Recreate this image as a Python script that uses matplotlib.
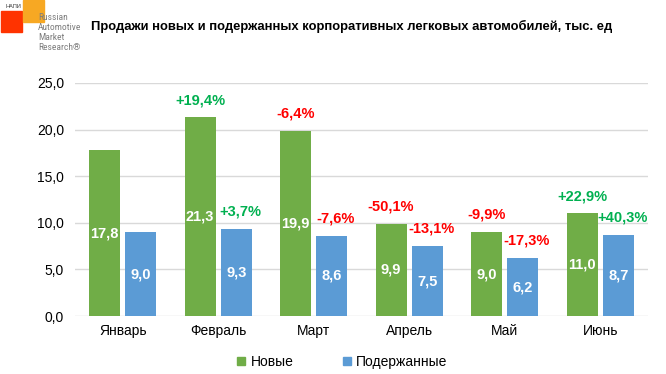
import numpy as np
import matplotlib.pyplot as plt
from matplotlib.patches import Rectangle
from matplotlib.lines import Line2D

plt.rcParams['font.family'] = ['Liberation Sans', 'DejaVu Sans']

# ---------------------------------------------------
# Data
# ---------------------------------------------------
months = ["Январь", "Февраль", "Март", "Апрель", "Май", "Июнь"]
new_cars = [17.8, 21.3, 19.9, 9.9, 9.0, 11.0]
used_cars = [9.0, 9.3, 8.6, 7.5, 6.2, 8.7]
new_change = [None, "+19,4%", "-6,4%", "-50,1%", "-9,9%", "+22,9%"]
used_change = [None, "+3,7%", "-7,6%", "-13,1%", "-17,3%", "+40,3%"]
yticks = [0, 5, 10, 15, 20, 25]

GREEN = "#70AD47"
BLUE = "#5B9BD5"
UP = "#00B050"
DOWN = "#FF0000"

fig = plt.figure(figsize=(6.66, 3.74), dpi=100)
ax = fig.add_axes([75/666, 1-316/374, 573/666, 233/374])

x = np.arange(len(months))
w = 0.325
off = 0.19
ax.bar(x - off, new_cars, w, color=GREEN, zorder=3)
ax.bar(x + off, used_cars, w, color=BLUE, zorder=3)

# values inside bars
for i in range(len(months)):
    ax.text(x[i] - off, new_cars[i] / 2, f"{new_cars[i]:.1f}".replace(".", ","),
            ha="center", va="center", color="white", fontsize=10.5, fontweight="bold", zorder=4)
    ax.text(x[i] + off, used_cars[i] / 2, f"{used_cars[i]:.1f}".replace(".", ","),
            ha="center", va="center", color="white", fontsize=10.5, fontweight="bold", zorder=4)

# percent changes above bars
for i in range(len(months)):
    for lab, val, xx, dx in ((new_change[i], new_cars[i], x[i] - off, 0),
                             (used_change[i], used_cars[i], x[i] + off, 3)):
        if lab is None:
            continue
        col = UP if lab.startswith("+") else DOWN
        ax.annotate(lab, (xx, val), xytext=(dx, 12.5), textcoords="offset points",
                    ha="center", va="center", color=col, fontsize=10.5, fontweight="bold")

ax.set_xlim(-0.5, len(months) - 0.5)
ax.set_ylim(0, 25)
ax.set_yticks(yticks)
ax.set_yticklabels([f"{t:.1f}".replace(".", ",") for t in yticks], fontsize=10)
ax.set_xticks(x)
ax.set_xticklabels(months, fontsize=10)
ax.tick_params(length=0, pad=8)
ax.tick_params(axis="x", pad=6)
ax.grid(axis="y", color="#D9D9D9", linewidth=1, zorder=0)
for s in ax.spines.values():
    s.set_visible(False)

# legend
handles = [Line2D([], [], marker="s", linestyle="", color=GREEN, markersize=6),
           Line2D([], [], marker="s", linestyle="", color=BLUE, markersize=6)]
fig.legend(handles, ["Новые", "Подержанные"], loc="center", bbox_to_anchor=(341/666, 1-362/374),
           ncol=2, frameon=False, fontsize=10, handletextpad=0.2, columnspacing=3.3,
           handlelength=1.0)

# title
fig.text(91/666, 1-26/374, "Продажи новых и подержанных корпоративных легковых автомобилей, тыс. ед",
         ha="left", va="center", fontsize=9.4, fontweight="bold", color="#000000")

# logo
fig.patches.append(Rectangle((1/666, 1-32/374), 21/666, 21/374, transform=fig.transFigure,
                             color="#FF3300", zorder=1))
fig.patches.append(Rectangle((23/666, 1-22/374), 21/666, 22/374, transform=fig.transFigure,
                             color="#F7A823", zorder=1))
fig.text(6/666, 1-7/374, "НАПИ", fontsize=4, color="#333333", va="center", ha="left")
for k, line in enumerate(["Russian", "Automotive", "Market", "Research®"]):
    fig.text(38/666, 1-(17 + k * 10)/374, line, fontsize=6.8, color="#7F7F7F",
             va="center", ha="left", family=["Roboto Condensed", "Liberation Sans"],
             zorder=2)

fig.savefig("out.png", dpi=100)
